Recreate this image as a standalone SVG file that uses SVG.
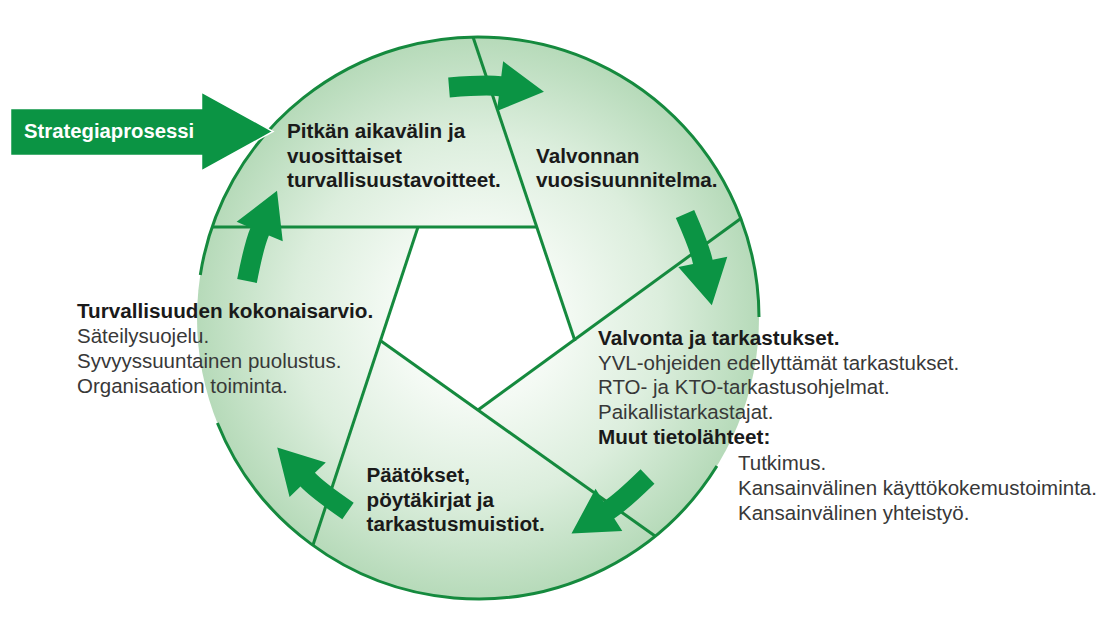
<svg xmlns="http://www.w3.org/2000/svg" xmlns:xlink="http://www.w3.org/1999/xlink" width="1105" height="627" viewBox="0 0 1105 627">
<style>
  .line { stroke: #158a3e; stroke-width: 3; fill: none; stroke-linecap: butt; }
  .arrow { fill: #0b9444; }
  .bold { font-family: "Liberation Sans", Arial, sans-serif; font-weight: bold; font-size: 20.7px; fill: #1a1a1a; }
  .reg { font-family: "Liberation Sans", Arial, sans-serif; font-size: 20.5px; fill: #383838; }
  .white { font-family: "Liberation Sans", Arial, sans-serif; font-weight: bold; font-size: 20.3px; fill: #ffffff; }
</style>
<defs>
  <radialGradient id="fillGrad" cx="478" cy="318" r="281" gradientUnits="userSpaceOnUse">
    <stop offset="0" stop-color="#ffffff"/>
    <stop offset="0.3" stop-color="#f4faf4"/>
    <stop offset="0.65" stop-color="#dceedd"/>
    <stop offset="1" stop-color="#b6dab9"/>
  </radialGradient>
  <path id="cyc" d="M-1.05,-9.95 Q37,-14 52,-12.45 L53.5,-27.4 L95,2 L48.5,22.4 L50,7.45 Q37,6 1.05,9.95 Z"/>
</defs>
<rect width="1105" height="627" fill="#ffffff"/>

<g id="circle">
  <circle cx="478" cy="318" r="281" fill="url(#fillGrad)"/>
  <polygon points="418,227 537,227 575,341 478,410 381,341" fill="#ffffff"/>
  <path class="line" d="M217.4,423 A281,281 0 0 0 716.9,466"/>
  <path class="line" d="M759,317 A281,281 0 0 0 200.3,275"/>
</g>

<g id="connectors">
  <line class="line" x1="212" y1="227" x2="537" y2="227"/>
  <line class="line" x1="473" y1="37" x2="575" y2="341"/>
  <line class="line" x1="741.5" y1="218" x2="478" y2="410"/>
  <line class="line" x1="655" y1="536" x2="381" y2="341"/>
  <line class="line" x1="313" y1="545" x2="418" y2="227"/>
  <use class="arrow" href="#cyc" transform="translate(449,87.5) rotate(1.35)"/>
  <use class="arrow" href="#cyc" transform="translate(685,214) rotate(72.4)"/>
  <use class="arrow" href="#cyc" transform="translate(647.5,476.5) rotate(141.9)"/>
  <use class="arrow" href="#cyc" transform="translate(348,511) rotate(220.65)"/>
  <use class="arrow" href="#cyc" transform="translate(247,281) rotate(-72.8)"/>
</g>

<g id="node-strategiaprosessi">
  <polygon points="10.5,108.5 201.5,108.5 201.5,92 273,131.5 201.5,171 201.5,155.5 10.5,155.5" fill="#0b9444" stroke="#ffffff" stroke-width="1.5" stroke-linejoin="miter"/>
  <text class="white" x="24" y="138">Strategiaprosessi</text>
</g>

<g id="node-tavoitteet">
  <text class="bold" x="287" y="138">Pitkän aikavälin ja</text>
  <text class="bold" x="287" y="162.5">vuosittaiset</text>
  <text class="bold" x="287" y="187">turvallisuustavoitteet.</text>
</g>

<g id="node-vuosisuunnitelma">
  <text class="bold" x="536" y="163">Valvonnan</text>
  <text class="bold" x="536" y="187">vuosisuunnitelma.</text>
</g>

<g id="node-valvonta">
  <text class="bold" x="598" y="345">Valvonta ja tarkastukset.</text>
  <text class="reg" x="598" y="369.5">YVL-ohjeiden edellyttämät tarkastukset.</text>
  <text class="reg" x="598" y="394">RTO- ja KTO-tarkastusohjelmat.</text>
  <text class="reg" x="598" y="418.5">Paikallistarkastajat.</text>
  <text class="bold" x="598" y="444">Muut tietolähteet:</text>
  <text class="reg" x="738" y="470">Tutkimus.</text>
  <text class="reg" x="738" y="495">Kansainvälinen käyttökokemustoiminta.</text>
  <text class="reg" x="738" y="519.5">Kansainvälinen yhteistyö.</text>
</g>

<g id="node-paatokset">
  <text class="bold" x="366.5" y="482">Päätökset,</text>
  <text class="bold" x="366.5" y="506.5">pöytäkirjat ja</text>
  <text class="bold" x="366.5" y="531">tarkastusmuistiot.</text>
</g>

<g id="node-kokonaisarvio">
  <text class="bold" x="77" y="317.5">Turvallisuuden kokonaisarvio.</text>
  <text class="reg" x="77" y="343">Säteilysuojelu.</text>
  <text class="reg" x="77" y="368">Syvyyssuuntainen puolustus.</text>
  <text class="reg" x="77" y="393">Organisaation toiminta.</text>
</g>
</svg>
